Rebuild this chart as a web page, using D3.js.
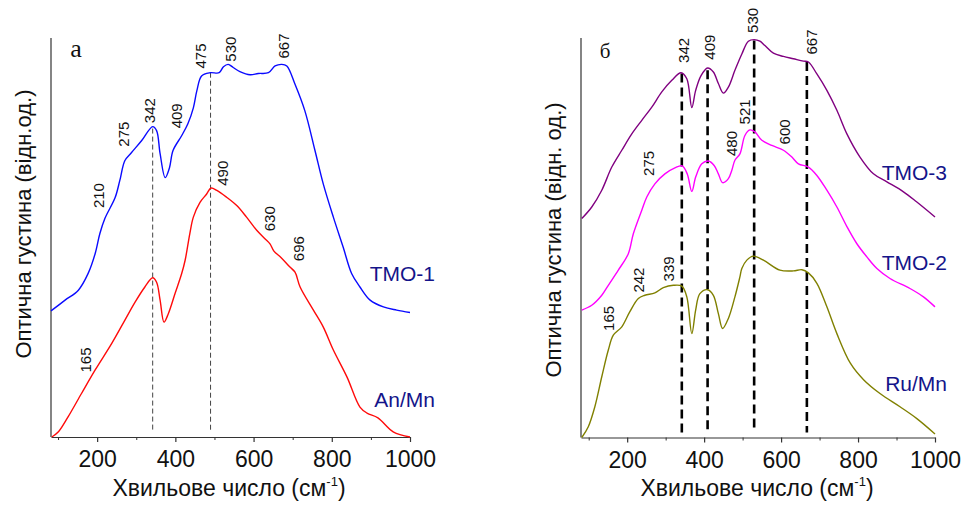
<!DOCTYPE html>
<html>
<head>
<meta charset="utf-8">
<script src="https://cdn.jsdelivr.net/npm/d3@7"></script>
<style>
  html, body { margin: 0; padding: 0; background: #fff; }
  svg { display: block; font-family: Arial, "Liberation Sans", sans-serif; }
</style>
</head>
<body>
<svg id="chart" width="962" height="507"></svg>
<script>
// ---- Spectra: [wavenumber (cm-1), optical density (rel. units)] ----
const tmo1 = [[82,31.6],[118,34.3],[152,36.8],[177,41],[195,46],[207,51],[220,54.8],[246,60],[258,64.3],[271,69.3],[288,71.3],[314,74.3],[342,77.8],[352,76.8],[361,71],[374,65],[385,67.5],[394,71.8],[416,75.5],[432,78.5],[446,82.5],[455,86.8],[467,90.5],[489,91.3],[512,91.3],[523,92.8],[535,93.4],[548,92.6],[565,91.6],[591,90.8],[612,91.1],[638,91.3],[655,93],[672,93.4],[685,93],[706,88.4],[731,81.8],[757,71.8],[778,63.5],[804,55.1],[829,47.6],[851,40.9],[872,37.6],[898,34.3],[932,32.6],[966,31.8],[1000,31.2]];
const anMn = [[84,0],[101,1.3],[126,5.1],[160,10.9],[195,16.8],[237,23.4],[271,29.3],[297,33.8],[322,37.6],[342,39.9],[352,38.8],[361,34.3],[371,28.8],[382,30.9],[399,35.9],[416,40.9],[425,44.3],[437,51],[446,55.1],[463,58.8],[480,60.9],[491,62.4],[506,61.8],[531,60.1],[557,58],[582,55.1],[608,51.8],[629,49.7],[642,48.4],[652,46.6],[670,45],[693,42.6],[706,41.3],[719,37.6],[753,31.8],[778,27.6],[804,21.8],[839,15],[872,7.5],[890,6],[918,4.8],[957,1.3],[1000,0]];
const tmo3 = [[82,54.8],[108,57.7],[134,61.9],[160,67.7],[186,71.9],[212,76],[238,79.4],[264,82.7],[290,86.5],[316,89.4],[340,91.3],[355,89.8],[368,82.6],[378,86.9],[392,90.6],[409,92.5],[424,91.5],[437,88.6],[450,86.2],[463,87.7],[480,91.9],[498,96],[515,99.2],[530,99.6],[545,99.2],[558,98.1],[580,96.2],[606,95.4],[632,94.8],[658,94.2],[671,94],[693,91],[719,86.9],[745,81.9],[771,76],[805,70.2],[840,66],[875,64],[918,61.5],[952,59],[1000,55.2]];
const tmo2 = [[82,31.9],[108,33.1],[134,35.6],[151,38.1],[177,41.9],[203,46],[216,51],[238,56.9],[251,60.2],[272,63.5],[298,66],[324,67.5],[343,68],[356,66],[368,61.6],[378,65.2],[394,68.5],[411,69.2],[426,68.1],[437,66],[448,63.8],[463,64.8],[472,66.9],[480,69.4],[493,71],[506,75.6],[519,77],[532,76.5],[550,74.4],[576,73.1],[606,71.9],[628,70.2],[645,68.5],[671,67.7],[693,65.6],[719,61.9],[745,57.7],[771,52.8],[797,48.5],[823,45.2],[849,42.3],[883,39.8],[935,37.3],[970,35.2],[1000,32.7]];
const ruMn = [[82,0],[99,2.7],[116,7.7],[134,15.2],[151,21.9],[164,25.6],[186,27.7],[207,31.5],[229,34.8],[246,35.6],[272,36.2],[294,37.5],[320,38.1],[342,37.9],[355,35.2],[368,26],[378,31.9],[389,36],[409,37],[424,35.6],[437,31],[448,27.3],[463,29.8],[480,35.2],[493,40.2],[498,42.3],[511,44.4],[528,45.4],[554,44.4],[597,41.9],[632,41.7],[654,42],[671,41.2],[693,38.6],[719,32.7],[745,26],[780,18.6],[815,14.4],[857,11],[909,7.7],[952,4.8],[1000,0.9]];

// ---- Band labels: [label x (cm-1), label y (rel. units), text] ----
const peaksA = [[169,19.3,"165"],[203,60.5,"210"],[267,75.9,"275"],[335,81.8,"342"],[402,80.5,"409"],[465,95.5,"475"],[540,97.2,"530"],[676,98,"667"],[521,66.1,"490"],[642,54.7,"630"],[714,47.2,"696"]];
const peaksB = [[151,29.8,"165"],[229,39.4,"242"],[307,42.2,"339"],[255,68.6,"275"],[346,96.9,"342"],[415,97.7,"409"],[472,73.6,"480"],[504,81.5,"521"],[608,76.5,"600"],[527,104.4,"530"],[680,99,"667"]];

// ---- Dashed guides at band positions: [wavenumber, top (rel. units)] ----
const guidesA = [[342,77.3], [490,91.3]];
const guidesB = [[342,91.1], [409,91.9], [530,99.4], [667,94]];

// ---- Axis ticks ----
const majorTicks = [200, 400, 600, 800, 1000];
const minorTicks = [100, 300, 500, 700, 900];

// ---- Series names: [text, y (rel. units)] ----
const namesA = [["TMO-1", 41], ["An/Mn", 9.3]];
const namesB = [["TMO-3", 66.4], ["TMO-2", 43.9], ["Ru/Mn", 13.5]];

const svg = d3.select("#chart");
const navy = "#14148a";
const sans = "Arial, 'Liberation Sans', sans-serif";

function panel(opts) {
  const x = d3.scaleLinear().domain([opts.xMin, 1000]).range([opts.left, opts.right]);
  const y = d3.scaleLinear().domain([0, 100]).range([opts.bottom, opts.top]);
  const g = svg.append("g");

  // bottom axis: labelled majors, short minors
  const ax = g.append("g").attr("transform", `translate(0,${opts.bottom})`)
    .call(d3.axisBottom(x).tickValues(majorTicks).tickFormat(d3.format("d"))
      .tickSize(5).tickSizeOuter(0).tickPadding(9));
  ax.select(".domain").attr("stroke", "#333").attr("stroke-width", 1.2);
  ax.selectAll(".tick line").attr("stroke", "#333").attr("stroke-width", 1.2);
  ax.selectAll(".tick text").attr("font-size", 23).attr("fill", "#111").attr("font-family", sans);
  g.append("g").attr("transform", `translate(0,${opts.bottom})`)
    .call(d3.axisBottom(x).tickValues(minorTicks).tickSize(3).tickFormat(""))
    .call(s => { s.select(".domain").remove(); s.selectAll(".tick line").attr("stroke", "#333"); });
  // left axis line (no ticks)
  g.append("line").attr("x1", opts.left).attr("x2", opts.left)
    .attr("y1", opts.top).attr("y2", opts.bottom).attr("stroke", "#333").attr("stroke-width", 1.2);

  // dashed guides
  opts.guides.forEach(([wn, top]) => {
    g.append("line").attr("x1", x(wn)).attr("x2", x(wn))
      .attr("y1", y(top)).attr("y2", opts.bottom - 5)
      .attr("stroke", opts.guideColor).attr("stroke-width", opts.guideWidth)
      .attr("stroke-dasharray", opts.guideDash);
  });

  // spectra
  const line = d3.line().x(d => x(d[0])).y(d => y(d[1])).curve(d3.curveCatmullRom.alpha(0.5));
  opts.series.forEach(s => {
    g.append("path").datum(s.data).attr("d", line)
      .attr("fill", "none").attr("stroke", s.color).attr("stroke-width", 1.4)
      .attr("stroke-linejoin", "round");
  });

  // band labels (rotated)
  opts.peaks.forEach(([wn, v, t]) => {
    g.append("text").attr("transform", `translate(${x(wn)},${y(v)}) rotate(-90)`)
      .attr("text-anchor", "middle").attr("dominant-baseline", "central")
      .attr("font-size", 15).attr("fill", "#111").text(t);
  });

  // series names
  opts.names.forEach(([t, v]) => {
    g.append("text").attr("x", opts.nameX).attr("y", y(v)).attr("text-anchor", "end")
      .attr("dominant-baseline", "central").attr("font-size", 21).attr("fill", navy).text(t);
  });

  // panel letter
  g.append("text").attr("x", opts.letterX).attr("y", opts.letterY)
    .attr("text-anchor", "middle").attr("dominant-baseline", "central")
    .attr("font-family", "'Liberation Serif', 'DejaVu Serif', serif")
    .attr("font-size", opts.letterSize).attr("fill", "#111").text(opts.letter);

  // axis titles
  const xt = g.append("text").attr("x", opts.xTitleX).attr("y", 496)
    .attr("text-anchor", "middle").attr("font-size", 23).attr("fill", "#111");
  xt.append("tspan").text("Хвильове число (см");
  xt.append("tspan").attr("dy", -10).attr("font-size", 13).text("-1");
  xt.append("tspan").attr("dy", 10).text(")");

  g.append("text").attr("transform", `translate(${opts.yTitleX},${opts.yTitleY}) rotate(-90)`)
    .attr("text-anchor", "middle").attr("dominant-baseline", "central")
    .attr("font-size", 22).attr("fill", "#111").text(opts.yTitle);
}

panel({
  left: 51, right: 410, top: 38, bottom: 437, xMin: 82,
  series: [{data: tmo1, color: "#0a0aff"}, {data: anMn, color: "#ff0a0a"}],
  guides: guidesA, guideColor: "#444", guideWidth: 1, guideDash: "5,3",
  peaks: peaksA, names: namesA, nameX: 435,
  letter: "а", letterX: 76, letterY: 48, letterSize: 26,
  xTitleX: 229, yTitle: "Оптична густина (відн.од.)", yTitleX: 23, yTitleY: 224
});

panel({
  left: 581, right: 935, top: 38, bottom: 437.5, xMin: 80,
  series: [{data: tmo3, color: "#800080"}, {data: tmo2, color: "#ff00ff"}, {data: ruMn, color: "#808000"}],
  guides: guidesB, guideColor: "#000", guideWidth: 2.6, guideDash: "9,5",
  peaks: peaksB, names: namesB, nameX: 947,
  letter: "б", letterX: 605, letterY: 51, letterSize: 21,
  xTitleX: 757, yTitle: "Оптична густина (відн. од.)", yTitleX: 553, yTitleY: 240
});
</script>
</body>
</html>
